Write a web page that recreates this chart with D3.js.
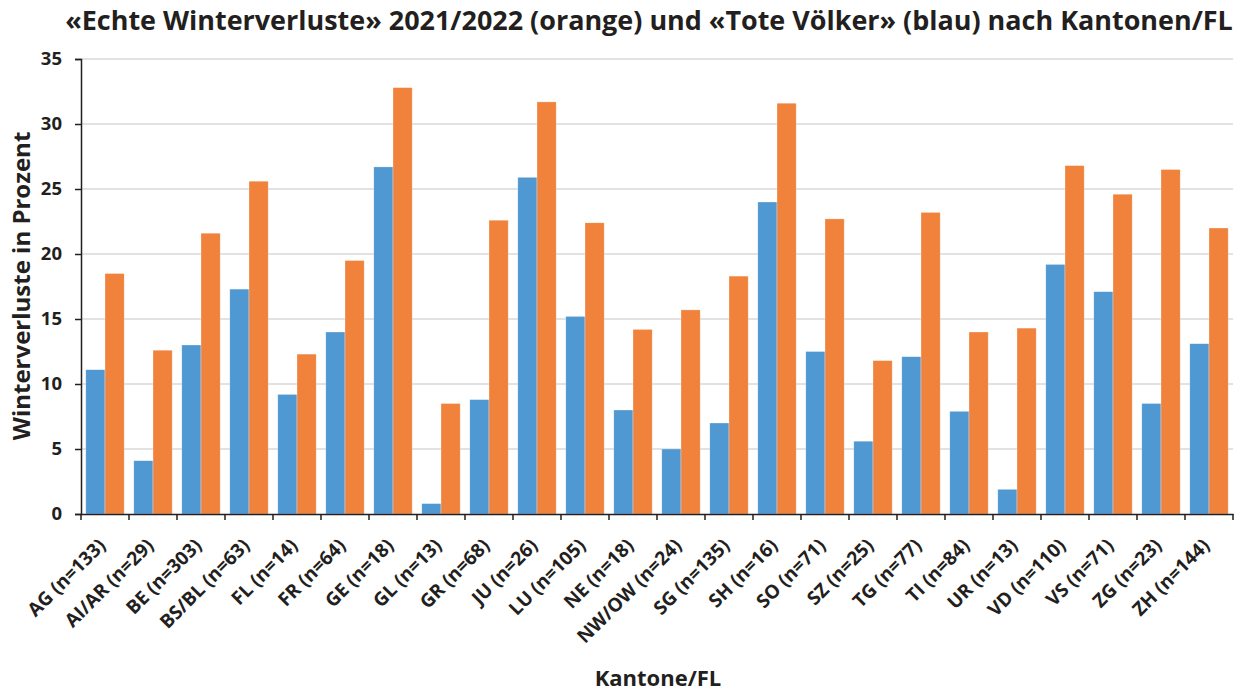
<!DOCTYPE html>
<html><head><meta charset="utf-8">
<script src="https://cdn.jsdelivr.net/npm/d3@7"></script>
<style>
html,body{margin:0;padding:0;background:#fff;}
text{font-family:"Open Sans","Noto Sans",sans-serif;font-weight:700;fill:#231f20;}
</style></head>
<body><svg id="c" width="1247" height="691"></svg>
<script>
const categories = ["AG (n=133)","AI/AR (n=29)","BE (n=303)","BS/BL (n=63)","FL (n=14)","FR (n=64)","GE (n=18)","GL (n=13)","GR (n=68)","JU (n=26)","LU (n=105)","NE (n=18)","NW/OW (n=24)","SG (n=135)","SH (n=16)","SO (n=71)","SZ (n=25)","TG (n=77)","TI (n=84)","UR (n=13)","VD (n=110)","VS (n=71)","ZG (n=23)","ZH (n=144)"];
const toteVoelker = [11.1,4.1,13.0,17.3,9.2,14.0,26.7,0.8,8.8,25.9,15.2,8.0,5.0,7.0,24.0,12.5,5.6,12.1,7.9,1.9,19.2,17.1,8.5,13.1];
const echteVerluste = [18.5,12.6,21.6,25.6,12.3,19.5,32.8,8.5,22.6,31.7,22.4,14.2,15.7,18.3,31.6,22.7,11.8,23.2,14.0,14.3,26.8,24.6,26.5,22.0];
const yTicks = [0,5,10,15,20,25,30,35];
const seriesNames = ["Tote Völker","Echte Winterverluste"];

const svg = d3.select("#c");
const m = {left:81, right:1233, top:59, bottom:514};
const x = d3.scaleBand().domain(categories).range([m.left,m.right]).paddingInner(0.2).paddingOuter(0.1);
const xs = d3.scaleBand().domain(seriesNames).range([0,x.bandwidth()]);
const y = d3.scaleLinear().domain([0,35]).range([m.bottom,m.top]);
const colors = {"Tote Völker":"#4f98d2","Echte Winterverluste":"#f0823c"};

// gridlines
svg.append("g").selectAll("line").data(yTicks.filter(d=>d>0)).join("line")
  .attr("x1",m.left).attr("x2",m.right).attr("y1",d=>y(d)).attr("y2",d=>y(d))
  .attr("stroke","#d9d9d9").attr("stroke-width",1.5);

// bars
const rows = categories.map((c,i)=>({c, vals:[{s:seriesNames[0],v:toteVoelker[i]},{s:seriesNames[1],v:echteVerluste[i]}]}));
const g = svg.append("g").selectAll("g").data(rows).join("g").attr("transform",d=>`translate(${x(d.c)},0)`);
g.selectAll("rect").data(d=>d.vals).join("rect")
  .attr("x",d=>xs(d.s)).attr("width",xs.bandwidth())
  .attr("y",d=>y(d.v)).attr("height",d=>y(0)-y(d.v))
  .attr("fill",d=>colors[d.s]).attr("stroke","#fff").attr("stroke-opacity",0.5).attr("stroke-width",0.6);

// y axis
const ya = svg.append("g").attr("transform",`translate(${m.left},0)`)
  .call(d3.axisLeft(y).tickValues(yTicks).tickSize(6).tickPadding(6));
ya.select(".domain").attr("stroke","#231f20").attr("stroke-width",1.5);
ya.selectAll(".tick line").attr("stroke","#231f20").attr("stroke-width",1.5);
ya.selectAll(".tick text").style("font-size","18.5px").style("font-family","'Open Sans',sans-serif").style("font-weight","700").attr("fill","#231f20").attr("x",-19);

// x axis
const xa = svg.append("g").attr("transform",`translate(0,${m.bottom})`)
  .call(d3.axisBottom(x).tickSize(0).tickFormat(d=>d));
xa.select(".domain").attr("stroke","#231f20").attr("stroke-width",1.5);
xa.selectAll(".tick text")
  .style("font-size","19px").style("font-family","'Open Sans',sans-serif").style("font-weight","700").attr("fill","#231f20")
  .attr("text-anchor","end").attr("x",0).attr("y",0).attr("dy","0.35em")
  .attr("transform","translate(-3,28) rotate(-45)");
// boundary ticks
const bounds = d3.range(categories.length+1).map(i=>i===categories.length? m.right : x(categories[i]) - x.step()*x.paddingOuter());
svg.append("g").selectAll("line").data(bounds).join("line")
  .attr("x1",d=>d).attr("x2",d=>d).attr("y1",m.bottom).attr("y2",m.bottom+6)
  .attr("stroke","#231f20").attr("stroke-width",1.5);

// titles
const title = svg.append("text").attr("x",649).attr("y",30).attr("text-anchor","middle")
  .style("font-size","25px").text("«Echte Winterverluste» 2021/2022 (orange) und «Tote Völker» (blau) nach Kantonen/FL");
const tw = title.node().getComputedTextLength();
title.style("font-size",(25*1168/tw).toFixed(2)+"px");

svg.append("text").attr("transform","translate(30,286) rotate(-90)").attr("text-anchor","middle")
  .style("font-size","24px").text("Winterverluste in Prozent");
svg.append("text").attr("x",658).attr("y",686).attr("text-anchor","middle")
  .style("font-size","22px").text("Kantone/FL");
</script></body></html>
